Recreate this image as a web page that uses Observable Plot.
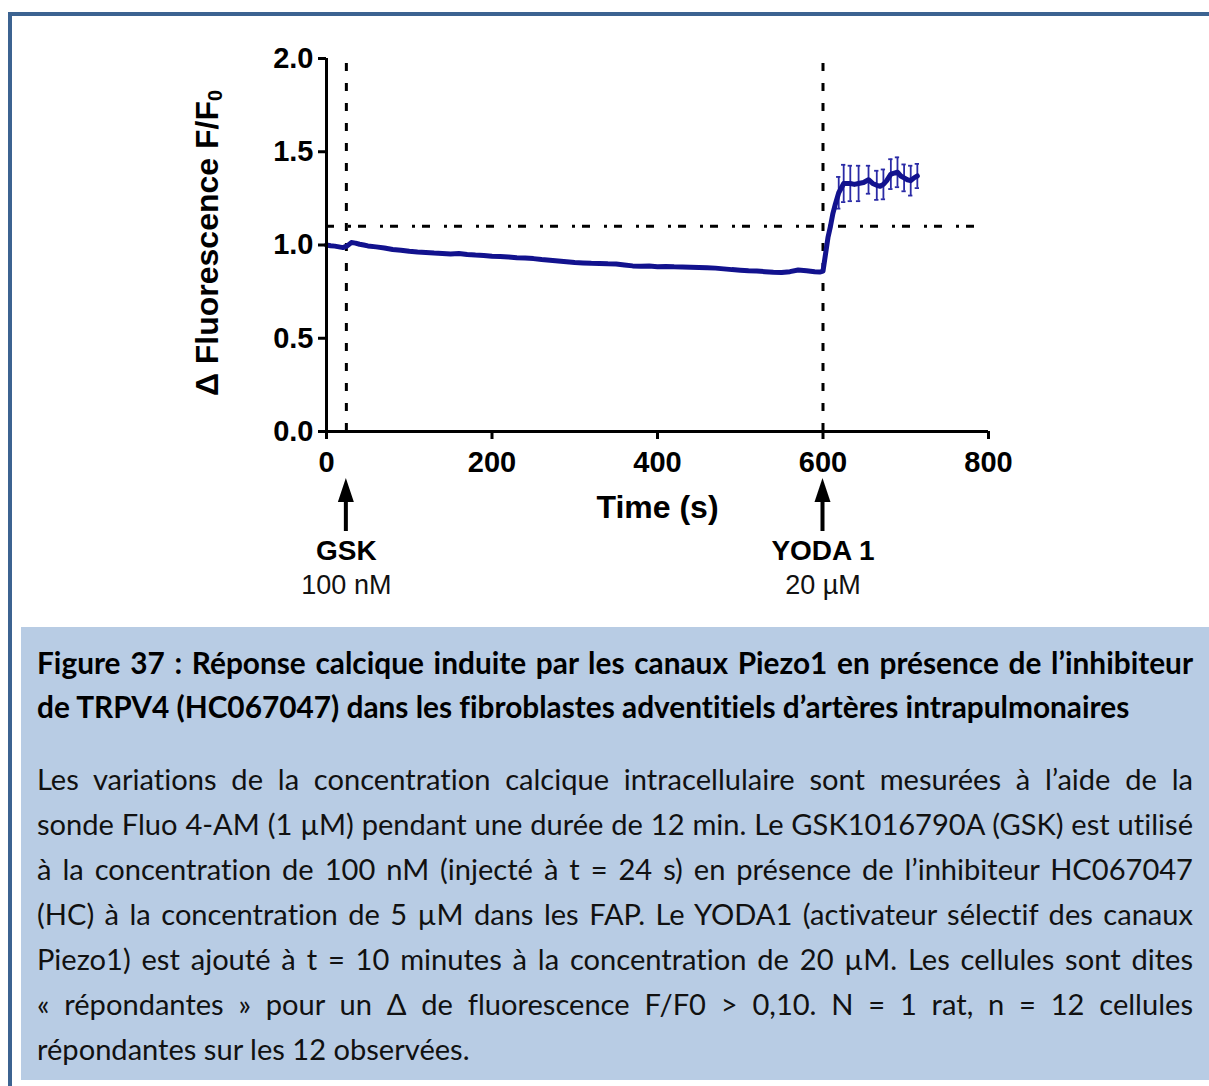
<!DOCTYPE html>
<html>
<head>
<meta charset="utf-8">
<script src="https://cdn.jsdelivr.net/npm/d3@7"></script>
<script src="https://cdn.jsdelivr.net/npm/@observablehq/plot@0.6"></script>
<style>
  html, body { margin: 0; padding: 0; background: #fff; }
  body { width: 1209px; height: 1086px; overflow: hidden; position: relative; }
  #frame { position: absolute; left: 8px; top: 12px; width: 1400px; height: 1300px; border: 4px solid #3c6391; box-sizing: border-box; }
  #chart { position: absolute; left: 0; top: 0; }
  #box { position: absolute; left: 21px; top: 627px; width: 1250px; height: 453px; background: #b8cce4; }
  .ln { position: absolute; left: 37px; width: 1156px; height: 45px; line-height: 45px; white-space: nowrap; font-family: Lato, "Open Sans", sans-serif; color: #000; font-variant-ligatures: none; font-feature-settings: "liga" 0, "clig" 0; }
  .just { text-align: justify; text-align-last: justify; }
  .title { font-weight: bold; font-size: 24px; }
  .body { font-size: 25px; color: #111; }
</style>
</head>
<body>
<div id="frame"></div>
<div id="box"></div>
<div id="chart"></div>
<div id="caption"></div>
<script>
// ---------- data ----------
const time = [0,5,10,15,20,25,30,35,40,45,50,
  60,70,80,90,100,110,120,130,140,150,160,170,180,190,200,210,220,230,240,250,260,270,280,290,300,
  310,320,330,340,350,360,370,380,390,400,410,420,430,440,450,460,470,480,490,500,510,520,530,540,550,560,570,580,590,
  596,600,603,606,609,612,615,
  619,625,629,633,638,643,649,655,660,665,669,673,677,682,686,690,694,698,702,706,710,714];
const fluo = [1.000,0.996,0.994,0.990,0.986,0.995,1.013,1.010,1.004,1.000,0.995,
  0.990,0.984,0.976,0.972,0.966,0.962,0.960,0.957,0.955,0.952,0.954,0.949,0.946,0.944,0.940,0.938,0.936,0.932,0.930,0.927,0.922,0.918,0.914,0.910,0.906,
  0.904,0.902,0.901,0.899,0.898,0.893,0.888,0.886,0.887,0.884,0.885,0.883,0.882,0.881,0.880,0.878,0.876,0.872,0.868,0.865,0.862,0.860,0.857,0.854,0.852,0.857,0.866,0.862,0.857,
  0.855,0.860,0.950,1.040,1.100,1.170,1.220,
  1.280,1.330,1.330,1.330,1.325,1.330,1.335,1.350,1.330,1.320,1.315,1.325,1.345,1.380,1.385,1.390,1.370,1.360,1.350,1.345,1.360,1.370];
const errTime = [619,625,633,643,655,665,673,682,690,698,706,714];
const errSem  = [0.085,0.100,0.095,0.095,0.075,0.078,0.080,0.080,0.080,0.072,0.080,0.065];
const eventTime = [24, 600];
const eventName = ["GSK", "YODA 1"];
const eventDose = ["100 nM", "20 µM"];
const threshold = 1.1;
const xTicks = [0, 200, 400, 600, 800];
const yTicks = [0, 0.5, 1.0, 1.5, 2.0];
const xLabel = "Time (s)";
const yLabelMain = "Δ Fluorescence F/F";
const yLabelSub = "0";
const titleLines = [
  "Figure 37 : Réponse calcique induite par les canaux Piezo1 en présence de l’inhibiteur",
  "de TRPV4 (HC067047) dans les fibroblastes adventitiels d’artères intrapulmonaires"
];
const bodyLines = [
  "Les variations de la concentration calcique intracellulaire sont mesurées à l’aide de la",
  "sonde Fluo 4-AM (1 µM) pendant une durée de 12 min. Le GSK1016790A (GSK) est utilisé",
  "à la concentration de 100 nM (injecté à t = 24 s) en présence de l’inhibiteur HC067047",
  "(HC) à la concentration de 5 µM dans les FAP. Le YODA1 (activateur sélectif des canaux",
  "Piezo1) est ajouté à t = 10 minutes à la concentration de 20 µM. Les cellules sont dites",
  "« répondantes » pour un Δ de fluorescence F/F0 > 0,10. N = 1 rat, n = 12 cellules",
  "répondantes sur les 12 observées."
];

// ---------- build ----------
const rows = time.map((t, i) => ({t, v: fluo[i]}));
const errRows = errTime.map((t, i) => ({t, v: fluo[time.indexOf(t)], e: errSem[i]}));
const events = eventTime.map((t, i) => ({t, name: eventName[i], dose: eventDose[i]}));

const W = 1209, H = 620;
const blue = "#12128e";
const ebBlue = "#2a2aa6";
const font = "Arial, 'Liberation Sans', Helvetica, sans-serif";

const plot = Plot.plot({
  width: W, height: H,
  marginLeft: 326, marginRight: W - 988, marginTop: 58, marginBottom: H - 431,
  x: {domain: [0, 800]},
  y: {domain: [0, 2]},
  style: {background: "transparent", fontFamily: font, fontSize: "29px", fontWeight: "bold", color: "#000", overflow: "visible"},
  marks: [
    Plot.ruleX(events, {x: "t", y1: 0, y2: 2, stroke: "#000", strokeWidth: 3, strokeDasharray: "8,12"}),
    Plot.ruleY([threshold], {y: d => d, x1: 0, x2: 800, stroke: "#000", strokeWidth: 3, strokeDasharray: "8,14,3,7"}),
    Plot.ruleX(errRows, {x: "t", y1: d => d.v - d.e, y2: d => d.v + d.e, stroke: ebBlue, strokeWidth: 1.8}),
    Plot.ruleY(errRows, {y: d => d.v + d.e, x1: d => d.t - 2.6, x2: d => d.t + 2.6, stroke: ebBlue, strokeWidth: 1.8}),
    Plot.ruleY(errRows, {y: d => d.v - d.e, x1: d => d.t - 2.6, x2: d => d.t + 2.6, stroke: ebBlue, strokeWidth: 1.8}),
    Plot.line(rows, {x: "t", y: "v", stroke: blue, strokeWidth: 5, strokeLinejoin: "round"}),
    Plot.axisY({ticks: yTicks, tickFormat: d3.format(".1f"), tickSize: 8, tickPadding: 5, strokeWidth: 3, fontSize: 29, fontWeight: "bold", label: null}),
    Plot.axisX({ticks: xTicks, tickFormat: d3.format("d"), tickSize: 8, tickPadding: 12, strokeWidth: 3, fontSize: 29, fontWeight: "bold", label: null}),
    Plot.ruleX([0], {y1: 0, y2: 2, stroke: "#000", strokeWidth: 3}),
    Plot.ruleY([0], {x1: 0, x2: 800, stroke: "#000", strokeWidth: 3}),
    Plot.text([xLabel], {text: d => d, frameAnchor: "bottom", dy: 86, fontSize: 32, fontWeight: "bold", fill: "#000"}),
    Plot.text(events, {x: "t", y: 0, text: "name", dy: 120, fontSize: 28, fontWeight: "bold", fill: "#000"}),
    Plot.text(events, {x: "t", y: 0, text: "dose", dy: 154, fontSize: 27, fontWeight: "normal", fill: "#111"})
  ]
});
document.getElementById("chart").appendChild(plot);

// arrows under the event markers and rotated y label with subscript
const sx = plot.scale("x");
const svg = d3.select(plot);
const ga = svg.append("g");
events.forEach(ev => {
  const px = sx.apply(ev.t);
  ga.append("rect").attr("x", px - 2).attr("y", 498).attr("width", 4).attr("height", 33).attr("fill", "#000");
  ga.append("path").attr("d", `M${px},478 L${px - 8},502 L${px + 8},502 Z`).attr("fill", "#000");
});
const yl = svg.append("text")
  .attr("transform", "translate(210,243) rotate(-90)")
  .attr("text-anchor", "middle").attr("dominant-baseline", "middle")
  .attr("font-family", font).attr("font-size", 32).attr("font-weight", "bold").attr("fill", "#000");
yl.append("tspan").text(yLabelMain);
yl.append("tspan").attr("font-size", 20).attr("dy", 7).text(yLabelSub);

// ---------- caption ----------
const cap = document.getElementById("caption");
function addLine(text, top, cls) {
  const d = document.createElement("div");
  d.className = "ln " + cls;
  d.style.top = top + "px";
  const s = document.createElement("span");
  s.textContent = text;
  d.appendChild(s);
  cap.appendChild(d);
  return d;
}
const tEls = titleLines.map((t, i) => addLine(t, 640 + i * 44, "title"));
const bEls = bodyLines.map((t, i) => addLine(t, 756 + i * 45, "body"));
function fit(els, lastTarget) {
  const fs = parseFloat(getComputedStyle(els[0]).fontSize);
  const widths = els.map(e => e.querySelector("span").getBoundingClientRect().width);
  let nfs = fs * lastTarget / widths[widths.length - 1];
  widths.slice(0, -1).forEach(w => { nfs = Math.min(nfs, fs * 1150 / w); });
  els.forEach((e, i) => {
    e.style.fontSize = nfs + "px";
    if (i < els.length - 1) e.classList.add("just");
  });
}
fit(tEls, 1093);
fit(bEls, 438);
</script>
</body>
</html>
